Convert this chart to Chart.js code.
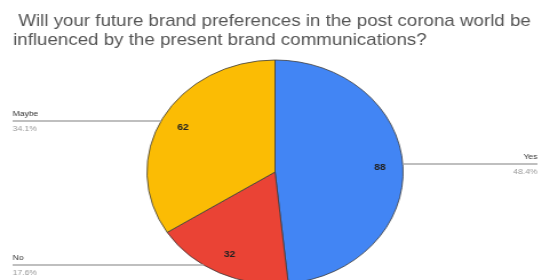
<!DOCTYPE html>
<html>
<head>
<meta charset="utf-8">
<script src="https://cdn.jsdelivr.net/npm/chart.js@4.4.0/dist/chart.umd.min.js"></script>
<style>
  html, body { margin: 0; padding: 0; background: #fff; overflow: hidden; }
  /* the reference is stretched sideways, so the whole drawing is too */
  #wrap { width: 474px; height: 280px; transform: scaleX(1.1435); transform-origin: 0 0; }
</style>
</head>
<body>
<div id="wrap"><canvas id="pie"></canvas></div>
<script>
const titleLines = [" Will your future brand preferences in the post corona world be", "influenced by the present brand communications?"];
const categories = ["Yes", "No", "Maybe"];
const responses = [88, 32, 62];
const sliceColors = ["#4285f4", "#ea4335", "#fbbc04"];

const total = responses.reduce((a, b) => a + b, 0);
const percents = responses.map(v => (v / total * 100).toFixed(1) + "%");

// where each leader line sits and on which side
const leaders = {
  Yes: { y: 164, side: "right" },
  No: { y: 265, side: "left" },
  Maybe: { y: 121, side: "left" },
};

const decorations = {
  id: "decorations",
  afterDraw(chart) {
    const ctx = chart.ctx;
    const meta = chart.getDatasetMeta(0);
    ctx.save();

    // title
    ctx.fillStyle = "#555";
    ctx.font = "16.4px 'Liberation Sans', Arial, sans-serif";
    ctx.textAlign = "left";
    ctx.textBaseline = "alphabetic";
    ctx.fillText(titleLines[0], 11.4, 26);
    ctx.fillText(titleLines[1], 11.4, 45);

    meta.data.forEach((arc, i) => {
      const { x, y, startAngle, endAngle, outerRadius } = arc.getProps(["x", "y", "startAngle", "endAngle", "outerRadius"], true);
      const mid = (startAngle + endAngle) / 2;

      // value inside the slice
      ctx.fillStyle = "#222";
      ctx.font = "bold 9px 'Liberation Sans', Arial, sans-serif";
      ctx.textAlign = "center";
      ctx.textBaseline = "middle";
      ctx.fillText(String(responses[i]), x + Math.cos(mid) * outerRadius * 0.82, y + Math.sin(mid) * outerRadius * 0.82);

      // leader line and label
      const lead = leaders[categories[i]];
      const dy = lead.y - y;
      const dx = Math.sqrt(Math.max(outerRadius * outerRadius - dy * dy, 0));
      const left = lead.side === "left";
      const edge = left ? x - dx : x + dx;
      const end = left ? 11 : 470;
      ctx.strokeStyle = "#aaa";
      ctx.lineWidth = 1.5;
      ctx.beginPath();
      ctx.moveTo(end, lead.y);
      ctx.lineTo(edge, lead.y);
      ctx.stroke();

      ctx.textAlign = left ? "left" : "right";
      ctx.textBaseline = "alphabetic";
      ctx.font = "7.5px 'Liberation Sans', Arial, sans-serif";
      ctx.fillStyle = "#333";
      ctx.fillText(categories[i], end, lead.y - 5);
      ctx.fillStyle = "#999";
      ctx.fillText(percents[i], end, lead.y + 10);
    });
    ctx.restore();
  }
};

new Chart(document.getElementById("pie"), {
  type: "pie",
  data: {
    labels: categories,
    datasets: [
      {
        data: responses,
        backgroundColor: sliceColors,
        borderColor: "rgba(60, 60, 60, 0.8)",
        borderWidth: 1,
      },
    ],
  },
  options: {
    responsive: true,
    maintainAspectRatio: false,
    animation: false,
    radius: 112,
    layout: {
      padding: { top: 64, bottom: 0, left: 140, right: 133 },
    },
    plugins: {
      legend: { display: false },
      tooltip: { enabled: false },
    },
  },
  plugins: [decorations],
});
</script>
</body>
</html>
